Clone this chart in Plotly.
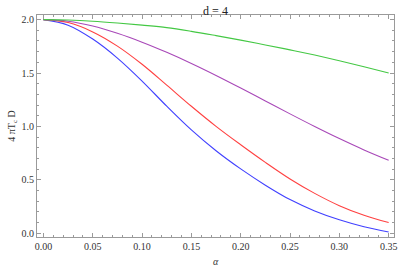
import plotly.graph_objects as go

alpha = [0.0, 0.025, 0.05, 0.075, 0.1, 0.125, 0.15, 0.175, 0.2, 0.225, 0.25, 0.275, 0.3, 0.325, 0.35]
blue = [2.0, 1.948, 1.818, 1.64, 1.425, 1.19, 0.968, 0.773, 0.603, 0.451, 0.316, 0.21, 0.127, 0.062, 0.013]
red = [2.0, 1.972, 1.885, 1.752, 1.582, 1.387, 1.189, 1.001, 0.829, 0.664, 0.509, 0.374, 0.259, 0.169, 0.101]
purple = [2.0, 1.985, 1.94, 1.872, 1.789, 1.694, 1.59, 1.478, 1.36, 1.239, 1.118, 1.0, 0.887, 0.781, 0.684]
green = [2.0, 1.996, 1.985, 1.968, 1.948, 1.925, 1.89, 1.85, 1.808, 1.763, 1.717, 1.668, 1.615, 1.558, 1.5]

series = [
    ("blue", blue, "#4040ff"),
    ("red", red, "#ff4040"),
    ("purple", purple, "#a848b8"),
    ("green", green, "#44c844"),
]

fig = go.Figure()
for name, ys, col in series:
    fig.add_trace(go.Scatter(x=alpha, y=ys, mode="lines", name=name,
                             line=dict(color=col, width=1.1, shape="spline", smoothing=1.0),
                             showlegend=False))

serif = "Liberation Serif, Times New Roman, serif"
axis_common = dict(
    showgrid=False, zeroline=False, showline=True, linecolor="#9a9a9a", linewidth=1,
    mirror="allticks", ticks="inside", ticklen=4, tickcolor="#9a9a9a", tickwidth=1,
    tickfont=dict(family=serif, size=10, color="#333333"),
)

fig.update_xaxes(range=[-0.0065, 0.3554], tickmode="array",
                 tickvals=[0, 0.05, 0.1, 0.15, 0.2, 0.25, 0.3, 0.35],
                 ticktext=["0.00", "0.05", "0.10", "0.15", "0.20", "0.25", "0.30", "0.35"],
                 minor=dict(dtick=0.01, tick0=0, ticks="inside", ticklen=2, tickcolor="#9a9a9a"),
                 title=dict(text="<i>α</i>", font=dict(family=serif, size=10, color="#333333"), standoff=6),
                 **axis_common)
fig.update_yaxes(range=[-0.034, 2.043], tickmode="array",
                 tickvals=[0, 0.5, 1.0, 1.5, 2.0],
                 ticktext=["0.0", "0.5", "1.0", "1.5", "2.0"],
                 minor=dict(dtick=0.1, tick0=0, ticks="inside", ticklen=2, tickcolor="#9a9a9a"),
                 title=dict(text="4 πT<sub>c</sub> D", font=dict(family=serif, size=10, color="#333333"), standoff=4),
                 **axis_common)

fig.update_layout(
    width=399, height=271,
    margin=dict(l=37, r=5, t=15, b=34, autoexpand=False),
    paper_bgcolor="white", plot_bgcolor="white",
    title=dict(text="d = 4", font=dict(family=serif, size=12, color="#222222"),
               x=0.5, xref="paper", y=0.975, yref="container", yanchor="top"),
)

fig.write_html("out.html",
               config={"displayModeBar": False},
               post_script="document.body.style.margin='0';document.body.style.padding='0';")
